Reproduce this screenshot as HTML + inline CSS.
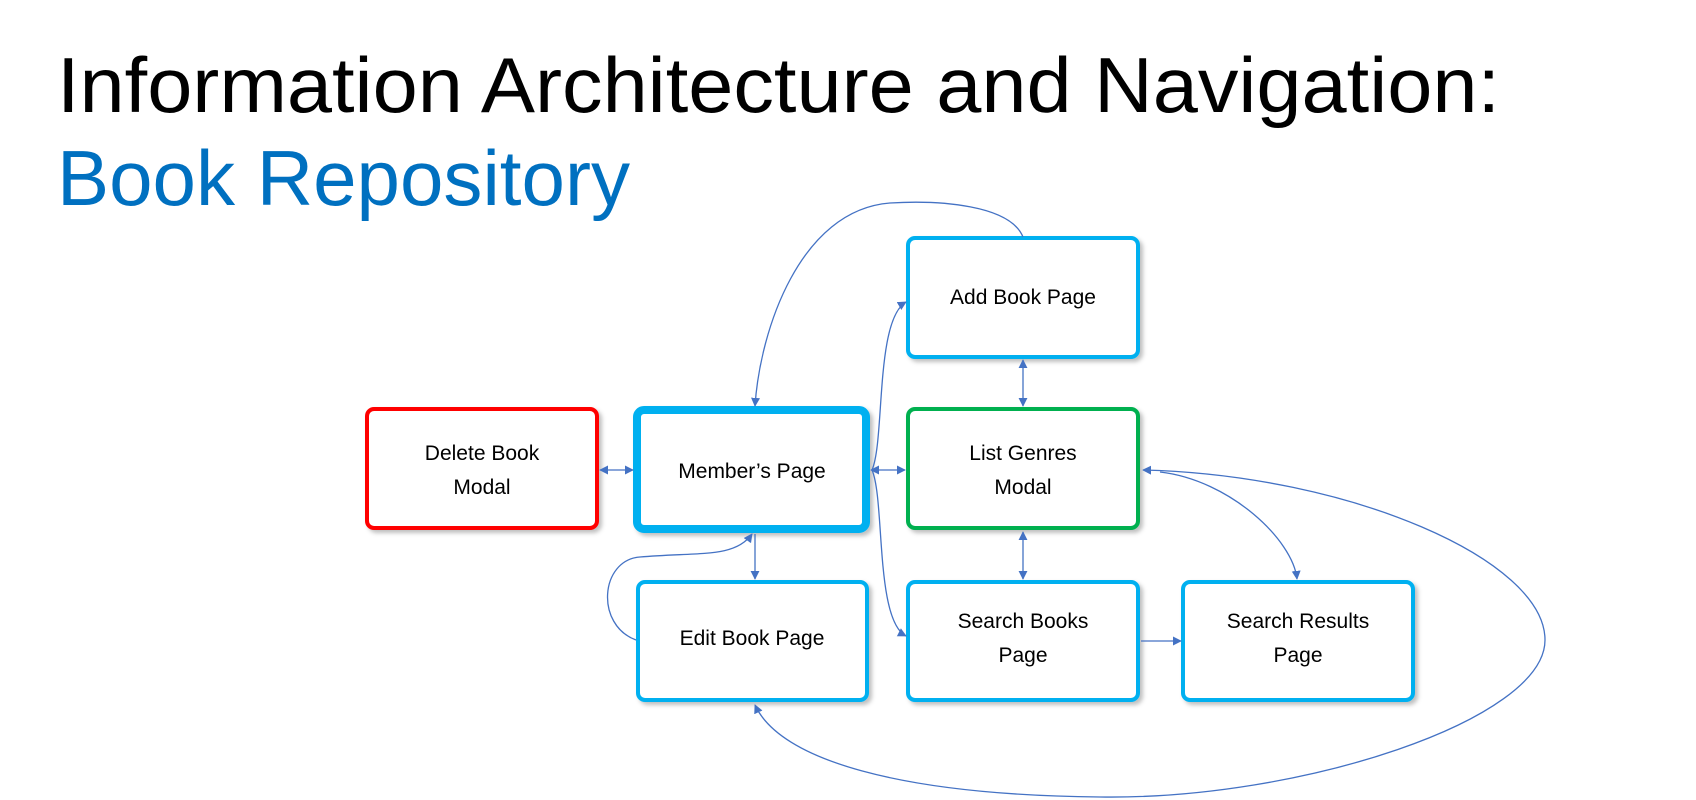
<!DOCTYPE html>
<html><head><meta charset="utf-8"><style>
html,body{margin:0;padding:0;background:#fff;width:1696px;height:800px;overflow:hidden}
svg{display:block}
</style></head><body>
<svg width="1696" height="800" viewBox="0 0 1696 800" xmlns="http://www.w3.org/2000/svg">
<defs>
<marker id="a" viewBox="0 0 10 10" refX="9" refY="5" markerWidth="9" markerHeight="9" orient="auto-start-reverse" markerUnits="userSpaceOnUse"><path d="M0,0 L10,5 L0,10 z" fill="#4472c4"/></marker>
<filter id="sh" x="-10%" y="-10%" width="130%" height="130%"><feDropShadow dx="3" dy="3" stdDeviation="2" flood-color="#000" flood-opacity="0.25"/></filter>
</defs>
<text x="57" y="112" font-family="Liberation Sans, sans-serif" font-size="78" fill="#000" textLength="1443" lengthAdjust="spacingAndGlyphs">Information Architecture and Navigation:</text>
<text x="57" y="205" font-family="Liberation Sans, sans-serif" font-size="78" fill="#0070c0" textLength="573" lengthAdjust="spacingAndGlyphs">Book Repository</text>

<g fill="#fff" filter="url(#sh)">
<rect x="367" y="409" width="230" height="119" rx="7" stroke="#ff0000" stroke-width="4"/>
<rect x="637" y="410" width="229" height="119" rx="7" stroke="#00b0f0" stroke-width="8"/>
<rect x="908" y="238" width="230" height="119" rx="7" stroke="#00b0f0" stroke-width="4"/>
<rect x="908" y="409" width="230" height="119" rx="7" stroke="#00b050" stroke-width="4"/>
<rect x="638" y="582" width="229" height="118" rx="7" stroke="#00b0f0" stroke-width="4"/>
<rect x="908" y="582" width="230" height="118" rx="7" stroke="#00b0f0" stroke-width="4"/>
<rect x="1183" y="582" width="230" height="118" rx="7" stroke="#00b0f0" stroke-width="4"/>
</g>

<g fill="none" stroke="#4472c4" stroke-width="1.3" marker-end="url(#a)">
<path d="M1023,237 C1010,205 940,200 890,203 C800,210 760,330 755,406"/>
<path d="M600,470 L633,470" marker-start="url(#a)"/>
<path d="M871,470 L905,470" marker-start="url(#a)"/>
<path d="M872,470 C885,440 875,320 906,302"/>
<path d="M872,470 C885,500 875,620 906,636"/>
<path d="M1023,360 L1023,406" marker-start="url(#a)"/>
<path d="M1023,532 L1023,579" marker-start="url(#a)"/>
<path d="M755,534 L755,579"/>
<path d="M636,640 C595,625 600,560 640,557 C700,552 735,558 752,534"/>
<path d="M1141,641 L1181,641"/>
<path d="M1160,472 C1230,480 1293,540 1297,579" />
<path d="M1545,640 C1545,560 1350,475 1143,470"/>
<path d="M1545,640 C1545,720 1300,800 1100,797 C900,795 780,760 755,705"/>
</g>

<g font-family="Liberation Sans, sans-serif" font-size="21" fill="#000" text-anchor="middle">
<text x="482" y="460">Delete Book</text>
<text x="482" y="494">Modal</text>
<text x="752" y="478">Member’s Page</text>
<text x="1023" y="304">Add Book Page</text>
<text x="1023" y="460">List Genres</text>
<text x="1023" y="494">Modal</text>
<text x="752" y="645">Edit Book Page</text>
<text x="1023" y="628">Search Books</text>
<text x="1023" y="662">Page</text>
<text x="1298" y="628">Search Results</text>
<text x="1298" y="662">Page</text>
</g>
</svg>
</body></html>
